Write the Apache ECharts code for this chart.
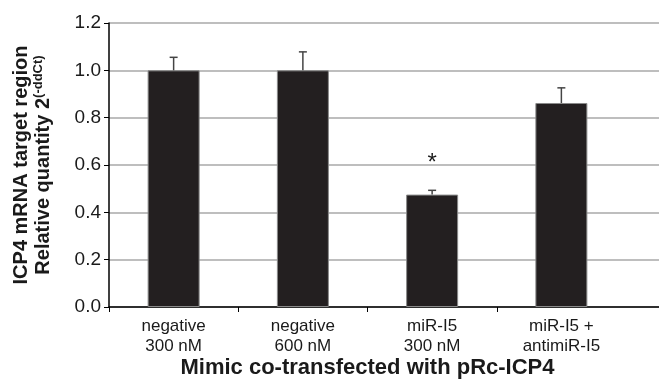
<!DOCTYPE html>
<html>
<head>
<meta charset="utf-8">
<script src="https://cdn.jsdelivr.net/npm/echarts@6/dist/echarts.min.js"></script>
<style>
  html, body { margin: 0; padding: 0; background: #fff; }
  #chart { width: 659px; height: 381px; }
</style>
</head>
<body>
<div id="chart"></div>
<script>
// data
var categories = ['negative\n300 nM', 'negative\n600 nM', 'miR-I5\n300 nM', 'miR-I5 +\nantimiR-I5']
var means = [1.0, 1.0, 0.475, 0.862]
var errUpper = [1.055, 1.078, 0.493, 0.926]
var marks = ['', '', '*', '']
var yTicks = [0, 0.2, 0.4, 0.6, 0.8, 1.0, 1.2]

var font = '"Liberation Sans", Arial, sans-serif'
var chart = echarts.init(document.getElementById('chart'))

var errData = categories.map(function(c, i) {
  return [i, means[i], errUpper[i], marks[i]]
})

// the plot area is wider than the category band (gridlines run to the edge)
var bandW = (659 - 109 - 33) / categories.length
var wideMax = (659 - 109) / bandW

chart.setOption({
  animation: false,
  grid: [
    // bars + categories
    { left: 109, right: 33, top: 23, bottom: 74, outerBoundsMode: 'none' },
    // gridlines stretch to the right edge
    { left: 109, right: 0, top: 23, bottom: 74, outerBoundsMode: 'none' }
  ],
  xAxis: [{
    type: 'category',
    gridIndex: 0,
    data: categories,
    axisLine: { show: false },
    axisTick: { show: false },
    axisLabel: {
      color: '#1a1a1a', fontFamily: font, fontSize: 17, lineHeight: 20, margin: 9
    },
    name: 'Mimic co-transfected with pRc-ICP4',
    nameLocation: 'middle',
    nameGap: 50,
    nameMoveOverlap: false,
    nameTextStyle: { color: '#1a1a1a', fontFamily: font, fontSize: 22, fontWeight: 'bold' }
  }, {
    type: 'value',
    gridIndex: 1,
    min: 0, max: wideMax,
    axisLine: { show: true, onZero: false, lineStyle: { color: '#000', width: 1.5 } },
    axisTick: {
      show: true, length: 5, customValues: [0, 1, 2, 3],
      lineStyle: { color: '#000', width: 1 }
    },
    axisLabel: { show: false },
    splitLine: { show: false }
  }],
  yAxis: [{
    type: 'value',
    gridIndex: 0,
    min: 0, max: 1.2, interval: 0.2,
    axisLine: { show: false },
    axisTick: { show: false },
    axisLabel: { show: false },
    splitLine: { show: false }
  }, {
    type: 'value',
    gridIndex: 1,
    min: 0, max: 1.2, interval: 0.2,
    axisLine: { show: true, lineStyle: { color: '#000', width: 1.5 } },
    axisTick: { show: true, length: 5, lineStyle: { color: '#000', width: 1 } },
    axisLabel: {
      color: '#1a1a1a', fontFamily: font, fontSize: 19, margin: 8,
      formatter: function(v) { return v.toFixed(1) }
    },
    splitLine: { show: true, lineStyle: { color: '#a8a8a8', width: 1.5 } },
    name: '{t|ICP4 mRNA target region}\n{t|Relative quantity 2}{sup|(-ddCt)}',
    nameLocation: 'middle',
    nameRotate: 90,
    nameGap: 55,
    nameMoveOverlap: false,
    nameTextStyle: {
      rich: {
        t: { color: '#1a1a1a', fontFamily: font, fontSize: 20, fontWeight: 'bold', lineHeight: 22 },
        sup: { color: '#1a1a1a', fontFamily: font, fontSize: 13, fontWeight: 'bold', lineHeight: 22, padding: [0, 0, 10, 0] }
      }
    }
  }],
  series: [{
    type: 'bar',
    xAxisIndex: 0,
    yAxisIndex: 0,
    data: means,
    barWidth: 52,
    itemStyle: { color: '#231f20', borderColor: '#8a8a8a', borderWidth: 1 },
    z: 3
  }, {
    type: 'custom',
    xAxisIndex: 0,
    yAxisIndex: 0,
    data: errData,
    z: 4,
    renderItem: function(params, api) {
      var base = api.coord([api.value(0), api.value(1)])
      var top = api.coord([api.value(0), api.value(2)])
      var cap = 4
      var children = [{
        type: 'line',
        shape: { x1: base[0], y1: base[1], x2: top[0], y2: top[1] },
        style: { stroke: '#444', lineWidth: 1.5 }
      }, {
        type: 'line',
        shape: { x1: top[0] - cap, y1: top[1], x2: top[0] + cap, y2: top[1] },
        style: { stroke: '#444', lineWidth: 1.5 }
      }]
      var mark = errData[params.dataIndex][3]
      if (mark) {
        children.push({
          type: 'text',
          style: {
            text: mark, x: top[0], y: top[1] - 27,
            textAlign: 'center', textVerticalAlign: 'middle',
            fill: '#1a1a1a', font: '24px ' + font
          }
        })
      }
      return { type: 'group', children: children }
    }
  }]
})
</script>
</body>
</html>
